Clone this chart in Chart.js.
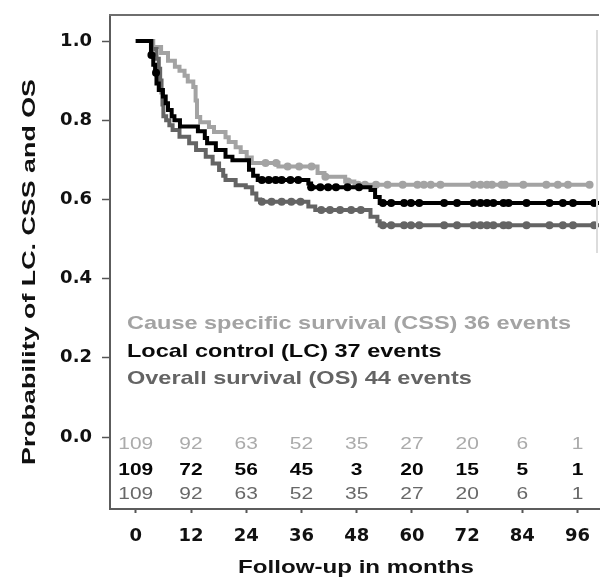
<!DOCTYPE html>
<html>
<head>
<meta charset="utf-8">
<script src="https://cdn.jsdelivr.net/npm/chart.js@4.4.0/dist/chart.umd.min.js"></script>
<style>
  html, body { margin: 0; padding: 0; background: #fff; }
  #wrap { width: 603px; height: 577px; position: relative; }
</style>
</head>
<body>
<div id="wrap"><canvas id="kmChart"></canvas></div>
<script>
// Kaplan-Meier steps: month where the level starts, and the level
const cssMonths = [0, 3.8, 5.5, 7, 8.5, 9.5, 10.6, 11.3, 12.5, 13, 13.3, 14, 15.9, 17, 19.5, 20.2, 21.7, 22.8, 24.1, 25.2, 31, 39.5, 41, 45.5, 47.5, 98.6];
const cssSurv   = [1, 0.985, 0.97, 0.95, 0.935, 0.925, 0.912, 0.898, 0.884, 0.85, 0.808, 0.795, 0.783, 0.77, 0.757, 0.745, 0.732, 0.72, 0.706, 0.692, 0.683, 0.667, 0.657, 0.645, 0.637, 0.637];

const lcMonths = [0, 3.3, 3.8, 4.2, 4.5, 5, 5.9, 6.5, 7, 7.8, 8.4, 9.6, 13.5, 15, 15.5, 17.4, 19.5, 21, 24.6, 25.5, 26.5, 37.5, 38.1, 51, 52, 53, 100.7];
const lcSurv   = [1, 0.965, 0.94, 0.92, 0.893, 0.876, 0.86, 0.843, 0.826, 0.81, 0.8, 0.784, 0.772, 0.755, 0.742, 0.725, 0.708, 0.699, 0.675, 0.66, 0.649, 0.64, 0.631, 0.624, 0.606, 0.591, 0.591];

const osMonths = [0, 3.5, 4.5, 5, 5.3, 5.6, 5.8, 6, 6.6, 7.3, 8, 9.5, 11.6, 13.1, 15.2, 16.7, 18.1, 19, 19.5, 21.7, 23.9, 25.3, 26.2, 27, 37.5, 39, 51, 52.5, 53, 100.7];
const osSurv   = [1, 0.98, 0.955, 0.93, 0.9, 0.87, 0.84, 0.81, 0.8, 0.787, 0.775, 0.758, 0.742, 0.725, 0.708, 0.691, 0.674, 0.66, 0.649, 0.636, 0.631, 0.615, 0.6, 0.594, 0.582, 0.573, 0.556, 0.545, 0.535, 0.535];

// censored observations (months)
const cssCensored = [28.2, 30.5, 33, 35.5, 38.2, 41.2, 46.1, 48.3, 49.8, 52.2, 54.7, 58, 61.2, 62.6, 64.1, 66.2, 73.4, 74.9, 76.3, 77.4, 79.5, 80.2, 84.2, 89.2, 91.7, 93.9, 98.6];
const lcCensored = [3.4, 4.4, 27.4, 28.9, 30.4, 31.7, 33.6, 35.3, 38.1, 40.1, 41.8, 43.5, 46, 48.5, 53.7, 55.5, 58.3, 59.8, 61.6, 67, 69.8, 73.4, 74.9, 76.3, 77.7, 79.9, 81, 84.9, 89.9, 92.8, 95, 99.6];
const osCensored = [27.4, 29.5, 31.7, 33.8, 35.8, 40.3, 42.2, 44.4, 46.8, 48.9, 53.7, 55.5, 58.3, 59.8, 61.6, 67, 69.8, 73.4, 74.9, 76.3, 77.7, 79.9, 81, 84.9, 89.9, 92.8, 95, 99.6];

// numbers at risk
const riskMonths = [0, 12, 24, 36, 48, 60, 72, 84, 96];
const cssAtRisk = [109, 92, 63, 52, 35, 27, 20, 6, 1];
const lcAtRisk  = [109, 72, 56, 45, 3, 20, 15, 5, 1];
const osAtRisk  = [109, 92, 63, 52, 35, 27, 20, 6, 1];

const xTicks = [0, 12, 24, 36, 48, 60, 72, 84, 96];
const yTicks = [0, 0.2, 0.4, 0.6, 0.8, 1.0];

const legendLines = [
    'Cause specific survival (CSS) 36 events',
    'Local control (LC) 37 events',
    'Overall survival (OS) 44 events'
];

const CSS_COLOR = '#a3a3a3';
const LC_COLOR = '#000000';
const OS_COLOR = '#646464';

function levelAt(months, surv, t) {
    let v = surv[0];
    for (let i = 0; i < months.length; i++) {
        if (months[i] <= t) v = surv[i];
    }
    return v;
}

function curve(label, months, surv, color, order) {
    return {
        label: label,
        data: months.map((m, i) => ({ x: m, y: surv[i] })),
        borderColor: color,
        borderWidth: 4,
        stepped: 'before',
        pointRadius: 0,
        fill: false,
        order: order
    };
}

function censorMarks(label, months, surv, censored, color, order) {
    return {
        type: 'scatter',
        label: label,
        data: censored.map(t => ({ x: t, y: levelAt(months, surv, t) })),
        backgroundColor: color,
        borderWidth: 0,
        pointRadius: 4,
        order: order
    };
}

// stretched text, the figure's lettering is wider than plain Arial
function wideText(ctx, text, x, y, font, color, align, sx) {
    ctx.save();
    ctx.font = font;
    ctx.fillStyle = color;
    ctx.textAlign = align;
    ctx.textBaseline = 'middle';
    ctx.translate(x, y);
    ctx.scale(sx, 1);
    ctx.fillText(text, 0, 0);
    ctx.restore();
}

const annotations = {
    id: 'kmAnnotations',
    afterDraw(chart) {
        const ctx = chart.ctx;
        const area = chart.chartArea;
        const xs = chart.scales.x;

        // top frame line and the faint right line
        ctx.save();
        ctx.strokeStyle = '#6e6e6e';
        ctx.lineWidth = 2;
        ctx.beginPath();
        ctx.moveTo(area.left - 1, area.top);
        ctx.lineTo(area.right, area.top);
        ctx.stroke();
        ctx.strokeStyle = '#dcdcdc';
        ctx.lineWidth = 2;
        ctx.beginPath();
        ctx.moveTo(area.right - 2, area.top + 15);
        ctx.lineTo(area.right - 2, area.top + 238);
        ctx.stroke();
        ctx.restore();

        // legend text inside the plot
        const legendColors = [CSS_COLOR, '#0a0a0a', OS_COLOR];
        const legendY = [324, 352, 379];
        legendLines.forEach((t, i) => {
            wideText(ctx, t, area.left + 17, legendY[i], 'bold 18.5px "Liberation Sans"', legendColors[i], 'left', 1.27);
        });

        // numbers at risk
        const rows = [
            { vals: cssAtRisk, color: '#ababab', font: '16.5px "Liberation Sans"', y: 444 },
            { vals: lcAtRisk, color: '#050505', font: 'bold 16.5px "Liberation Sans"', y: 470 },
            { vals: osAtRisk, color: '#686868', font: '16.5px "Liberation Sans"', y: 494 }
        ];
        rows.forEach(r => {
            r.vals.forEach((v, i) => {
                wideText(ctx, String(v), xs.getPixelForValue(riskMonths[i]), r.y, r.font, r.color, 'center', 1.27);
            });
        });

        // axis titles
        wideText(ctx, 'Follow-up in months', 356, 568, 'bold 19px "Liberation Sans"', '#111', 'center', 1.27);
        ctx.save();
        ctx.font = 'bold 18px "Liberation Sans"';
        const sx = 386 / ctx.measureText('Probability of LC. CSS and OS').width;
        ctx.translate(30, 272);
        ctx.rotate(-Math.PI / 2);
        wideText(ctx, 'Probability of LC. CSS and OS', 0, 0, 'bold 18px "Liberation Sans"', '#111', 'center', sx);
        ctx.restore();
    }
};

new Chart(document.getElementById('kmChart'), {
    type: 'line',
    data: {
        datasets: [
            curve('LC', lcMonths, lcSurv, LC_COLOR, 0),
            censorMarks('LC censored', lcMonths, lcSurv, lcCensored, LC_COLOR, 0),
            curve('OS', osMonths, osSurv, OS_COLOR, 1),
            censorMarks('OS censored', osMonths, osSurv, osCensored, OS_COLOR, 1),
            curve('CSS', cssMonths, cssSurv, CSS_COLOR, 2),
            censorMarks('CSS censored', cssMonths, cssSurv, cssCensored, CSS_COLOR, 2)
        ]
    },
    options: {
        responsive: true,
        maintainAspectRatio: false,
        animation: false,
        events: [],
        layout: { padding: { top: 15, left: 0, right: 0, bottom: 0 } },
        plugins: {
            legend: { display: false },
            tooltip: { enabled: false }
        },
        scales: {
            x: {
                type: 'linear',
                min: -5.6,
                max: 100.65,
                afterBuildTicks: s => { s.ticks = xTicks.map(v => ({ value: v })); },
                afterFit: s => { s.height = 68; s.paddingLeft = 0; s.paddingRight = 0; },
                ticks: {
                    color: '#111',
                    padding: 13,
                    autoSkip: false,
                    maxRotation: 0,
                    font: { family: 'DejaVu Sans', weight: 'bold', size: 18 }
                },
                grid: { drawOnChartArea: false, tickLength: 4, tickColor: '#555', tickWidth: 2 },
                border: { display: true, color: '#5c5c5c', width: 2 }
            },
            y: {
                type: 'linear',
                min: -0.1818,
                max: 1.0657,
                afterBuildTicks: s => { s.ticks = yTicks.map(v => ({ value: v })); },
                afterFit: s => { s.width = 110; s.paddingTop = 0; s.paddingBottom = 0; },
                ticks: {
                    color: '#111',
                    padding: 10,
                    callback: v => v.toFixed(1),
                    font: { family: 'DejaVu Sans', weight: 'bold', size: 18 }
                },
                grid: { drawOnChartArea: false, tickLength: 8, tickColor: '#555', tickWidth: 1.5 },
                border: { display: true, color: '#5c5c5c', width: 2 }
            }
        }
    },
    plugins: [annotations]
});
</script>
</body>
</html>
